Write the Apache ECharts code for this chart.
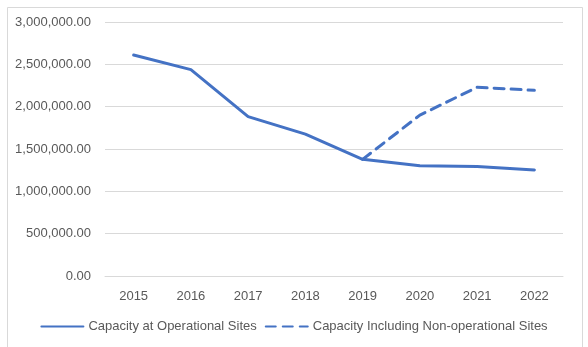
<!DOCTYPE html>
<html>
<head>
<meta charset="utf-8">
<script src="https://cdn.jsdelivr.net/npm/echarts@6/dist/echarts.min.js"></script>
<style>
html,body{margin:0;padding:0;background:#fff;}
#chart{width:588px;height:347px;}
</style>
</head>
<body>
<div id="chart"></div>
<script>
var years = ['2015','2016','2017','2018','2019','2020','2021','2022'];
var operational = [2610000, 2437000, 1882000, 1675000, 1378000, 1303000, 1293000, 1252000];
var includingNonOperational = [null, null, null, null, 1378000, 1900000, 2229000, 2193000];
var yTicks = [0, 500000, 1000000, 1500000, 2000000, 2500000, 3000000];

var font = 'Liberation Sans';
var textColor = '#595959';
var blue = '#4472C4';

var chart = echarts.init(document.getElementById('chart'), null, {renderer:'canvas'});
chart.setOption({
  animation: false,
  backgroundColor: '#fff',
  graphic: [{
    type: 'rect', left: 5, top: 5, silent: true,
    shape: {width: 575, height: 345},
    style: {fill: 'none', stroke: '#d9d9d9', lineWidth: 1}
  }],
  grid: {left: 105, right: 25, top: 22, bottom: 71, containLabel: false},
  xAxis: {
    type: 'category',
    data: years,
    boundaryGap: true,
    axisLine: {show: true, lineStyle: {color: '#d9d9d9', width: 1}},
    axisTick: {show: false},
    axisLabel: {color: textColor, fontFamily: font, fontSize: 13, margin: 14}
  },
  yAxis: {
    type: 'value',
    min: yTicks[0], max: yTicks[yTicks.length-1], interval: 500000,
    axisLine: {show: false},
    axisTick: {show: false},
    splitLine: {lineStyle: {color: '#d9d9d9', width: 1}},
    axisLabel: {
      color: textColor, fontFamily: font, fontSize: 13, margin: 14,
      formatter: function(v){ return v.toLocaleString('en-US', {minimumFractionDigits:2, maximumFractionDigits:2}); }
    }
  },
  legend: {
    bottom: 9,
    left: 'center',
    itemWidth: 42,
    itemHeight: 10,
    itemGap: 8,
    itemStyle: {opacity: 0},
    textStyle: {color: textColor, fontFamily: font, fontSize: 13},
    data: ['Capacity at Operational Sites', 'Capacity Including Non-operational Sites']
  },
  series: [{
    name: 'Capacity at Operational Sites',
    type: 'line',
    data: operational,
    symbol: 'none',
    lineStyle: {color: blue, width: 3, cap: 'round'},
    itemStyle: {color: blue}
  },{
    name: 'Capacity Including Non-operational Sites',
    type: 'line',
    data: includingNonOperational,
    symbol: 'none',
    lineStyle: {color: blue, width: 3, type: [10, 7], cap: 'round'},
    itemStyle: {color: blue}
  }]
});
</script>
</body>
</html>
